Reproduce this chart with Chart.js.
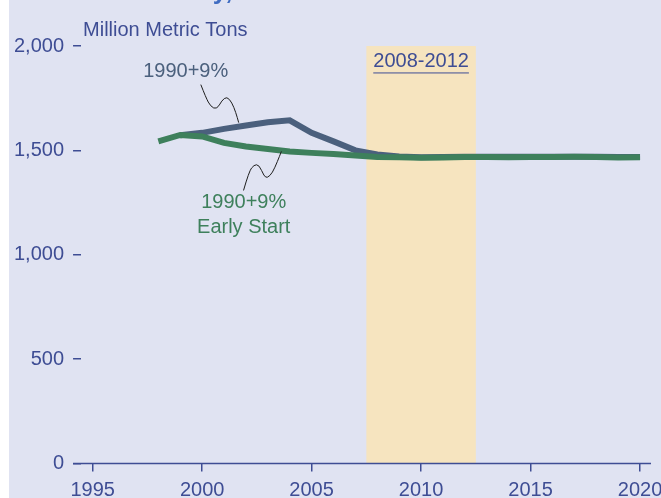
<!DOCTYPE html>
<html lang="en">
<head>
    <meta charset="UTF-8">
    <title>Million Metric Tons</title>
    <script src="https://cdn.jsdelivr.net/npm/chart.js"></script>
    <style>
        html, body { margin: 0; padding: 0; background: #ffffff; overflow: hidden; }
        #wrap { position: absolute; left: 0; top: 0; width: 670px; height: 510px; }
    </style>
</head>
<body>
<div id="wrap">
    <canvas id="myChart" width="670" height="510"></canvas>
</div>

<script>
// data
const years = [1998, 1999, 2000, 2001, 2002, 2003, 2004, 2005, 2006, 2007, 2008, 2009,
               2010, 2011, 2012, 2013, 2014, 2015, 2016, 2017, 2018, 2019, 2020];
const earlyStart = [1543, 1574, 1567, 1536, 1519, 1507, 1495, 1488, 1483, 1475, 1468, 1467,
                    1465, 1466, 1468, 1468, 1467, 1468, 1468, 1469, 1468, 1466, 1467];
const plus9 = [null, 1572, 1584, 1603, 1619, 1635, 1644, 1584, 1543, 1500, 1480, 1471,
               1467, 1468, 1470, 1469, 1469, 1470, 1470, 1470, 1469, 1468, 1468];
const xTicks = [1995, 2000, 2005, 2010, 2015, 2020];
const yTicks = [0, 500, 1000, 1500, 2000];
const commitment = [2007.5, 2012.5];

// leader lines for the labels (year, value)
const plus9Leader = [[1999.94, 1815], [2000.17, 1753], [2000.39, 1710], [2000.67, 1696], [2000.90, 1739],
                     [2001.13, 1758], [2001.36, 1729], [2001.54, 1681], [2001.67, 1633]];
const earlyLeader = [[2001.89, 1308], [2002.14, 1399], [2002.37, 1431], [2002.60, 1431], [2002.83, 1376],
                     [2002.98, 1368], [2003.21, 1392], [2003.44, 1447], [2003.62, 1495]];

const AXIS = '#3e4d94';
const BLUE = '#4b607d';
const GREEN = '#3e805c';
const FONT = "'Liberation Sans', Arial, sans-serif";

const toPoints = (xs, ys) => xs.map((x, i) => ({ x: x, y: ys[i] }));

function drawLeader(ctx, xs, ys, pts) {
    const p = pts.map(d => [xs.getPixelForValue(d[0]), ys.getPixelForValue(d[1])]);
    ctx.beginPath();
    ctx.moveTo(p[0][0], p[0][1]);
    for (let i = 1; i < p.length - 1; i++) {
        const mx = (p[i][0] + p[i + 1][0]) / 2;
        const my = (p[i][1] + p[i + 1][1]) / 2;
        ctx.quadraticCurveTo(p[i][0], p[i][1], mx, my);
    }
    ctx.lineTo(p[p.length - 1][0], p[p.length - 1][1]);
    ctx.stroke();
}

const decorPlugin = {
    id: 'decor',
    beforeDraw(chart) {
        const ctx = chart.ctx;
        const xs = chart.scales.x, ys = chart.scales.y;
        ctx.save();
        ctx.fillStyle = '#ffffff';
        ctx.fillRect(0, 0, chart.width, chart.height);
        ctx.fillStyle = '#e0e3f2';
        ctx.fillRect(9, 0, chart.width - 9, chart.height);

        // 2008-2012 band
        const x0 = xs.getPixelForValue(commitment[0]);
        const x1 = xs.getPixelForValue(commitment[1]);
        const yTop = ys.getPixelForValue(2000);
        const yBot = ys.getPixelForValue(0);
        ctx.fillStyle = '#f6e4bf';
        ctx.fillRect(x0, yTop, x1 - x0, yBot - yTop);

        // title (cut off at the top)
        ctx.fillStyle = '#3f6cc2';
        ctx.font = 'bold 26px ' + FONT;
        ctx.textAlign = 'left';
        ctx.textBaseline = 'alphabetic';
        ctx.fillText('Study, 1998-2020', 155, -1);

        // unit label
        ctx.fillStyle = AXIS;
        ctx.font = '20px ' + FONT;
        ctx.textBaseline = 'middle';
        ctx.fillText('Million Metric Tons', chart.chartArea.left + 2, yTop - 16);

        // band label
        ctx.textAlign = 'center';
        const bx = xs.getPixelForValue(2010);
        const by = ys.getPixelForValue(1926);
        ctx.fillText('2008-2012', bx, by);
        const w = ctx.measureText('2008-2012').width;
        ctx.strokeStyle = AXIS;
        ctx.lineWidth = 1;
        ctx.beginPath();
        ctx.moveTo(bx - w / 2, by + 11.5);
        ctx.lineTo(bx + w / 2, by + 11.5);
        ctx.stroke();

        // x axis line
        ctx.strokeStyle = AXIS;
        ctx.lineWidth = 1.5;
        ctx.beginPath();
        ctx.moveTo(chart.chartArea.left - 8, yBot);
        ctx.lineTo(chart.chartArea.right, yBot);
        ctx.stroke();
        ctx.restore();
    },
    afterDatasetsDraw(chart) {
        const ctx = chart.ctx;
        const xs = chart.scales.x, ys = chart.scales.y;
        ctx.save();
        ctx.font = '20px ' + FONT;
        ctx.textAlign = 'center';
        ctx.textBaseline = 'middle';
        ctx.fillStyle = BLUE;
        ctx.fillText('1990+9%', xs.getPixelForValue(1999.25), ys.getPixelForValue(1878));
        ctx.fillStyle = GREEN;
        ctx.fillText('1990+9%', xs.getPixelForValue(2001.9), ys.getPixelForValue(1249));
        ctx.fillText('Early Start', xs.getPixelForValue(2001.9), ys.getPixelForValue(1129));

        ctx.strokeStyle = '#1e1e1e';
        ctx.lineWidth = 1;
        drawLeader(ctx, xs, ys, plus9Leader);
        drawLeader(ctx, xs, ys, earlyLeader);
        ctx.restore();
    }
};

const ctx = document.getElementById('myChart').getContext('2d');
new Chart(ctx, {
    type: 'line',
    data: {
        datasets: [
            {
                label: '1990+9% Early Start',
                data: toPoints(years, earlyStart),
                borderColor: GREEN,
                borderWidth: 6,
                borderCapStyle: 'butt',
                borderJoinStyle: 'miter',
                pointRadius: 0,
                tension: 0,
                fill: false
            },
            {
                label: '1990+9%',
                data: toPoints(years, plus9),
                borderColor: BLUE,
                borderWidth: 6,
                borderCapStyle: 'butt',
                borderJoinStyle: 'miter',
                pointRadius: 0,
                tension: 0,
                fill: false
            }
        ]
    },
    options: {
        responsive: false,
        animation: false,
        devicePixelRatio: 1,
        layout: {
            padding: { left: 5, right: 19, top: 46, bottom: 0.5 }
        },
        plugins: {
            legend: { display: false },
            tooltip: { enabled: false }
        },
        scales: {
            x: {
                type: 'linear',
                min: 1994.47,
                max: 2020.5,
                afterBuildTicks: scale => { scale.ticks = xTicks.map(v => ({ value: v })); },
                ticks: {
                    color: AXIS,
                    font: { family: FONT, size: 20 },
                    padding: 7,
                    maxRotation: 0,
                    autoSkip: false,
                    callback: value => String(value)
                },
                grid: {
                    drawOnChartArea: false,
                    drawTicks: true,
                    tickLength: 8,
                    color: AXIS,
                    lineWidth: 1.5
                },
                border: { display: false }
            },
            y: {
                min: 0,
                max: 2000,
                afterBuildTicks: scale => { scale.ticks = yTicks.map(v => ({ value: v })); },
                ticks: {
                    color: AXIS,
                    font: { family: FONT, size: 20 },
                    padding: 9,
                    callback: value => value.toLocaleString('en-US')
                },
                grid: {
                    drawOnChartArea: false,
                    drawTicks: true,
                    tickLength: 8,
                    color: AXIS,
                    lineWidth: 1.5
                },
                border: { display: false }
            }
        }
    },
    plugins: [decorPlugin]
});
</script>
</body>
</html>
